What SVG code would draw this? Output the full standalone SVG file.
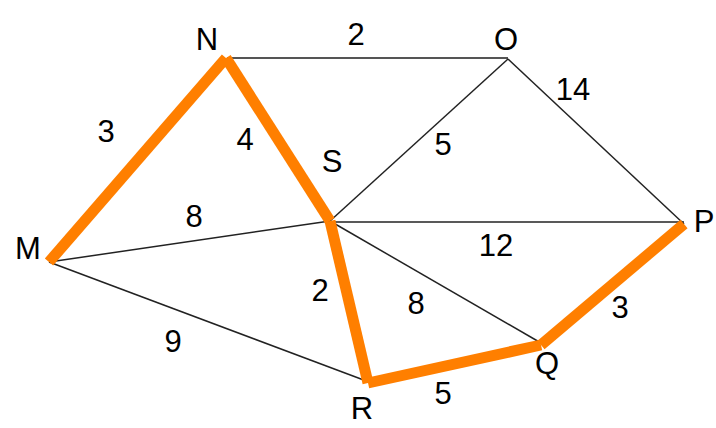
<svg xmlns="http://www.w3.org/2000/svg" width="716" height="428" viewBox="0 0 716 428">
<style>
.e{stroke:#222;stroke-width:1.5;fill:none}
.h{stroke:#FF7F00;stroke-width:11;stroke-linecap:butt;fill:none}
text{font-family:"Liberation Sans",Arial,sans-serif;font-size:31px;fill:#000;text-anchor:middle}
</style>
<rect width="716" height="428" fill="#fff"/>
<g id="connectors">
<line class="e" x1="227" y1="58" x2="508" y2="58" style="stroke:#555;stroke-width:2"/>
<line class="e" x1="508" y1="59" x2="330" y2="221"/>
<line class="e" x1="508" y1="59" x2="684" y2="224"/>
<line class="e" x1="330" y1="222" x2="684" y2="222"/>
<line class="e" x1="49" y1="262" x2="330" y2="221"/>
<line class="e" x1="49" y1="262" x2="369" y2="382"/>
<line class="e" x1="330" y1="221" x2="541" y2="343"/>
<line class="h" x1="49" y1="262" x2="226" y2="58"/>
<line class="h" x1="226" y1="58" x2="330" y2="221"/>
<line class="h" x1="330" y1="221" x2="368" y2="383"/>
<line class="h" x1="368" y1="383" x2="541" y2="345"/>
<line class="h" x1="541" y1="345" x2="684" y2="224"/>
<text x="356" y="45">2</text>
<text x="573" y="100">14</text>
<text x="443" y="155">5</text>
<text x="106" y="142">3</text>
<text x="245" y="150">4</text>
<text x="194" y="227">8</text>
<text x="320" y="301">2</text>
<text x="173" y="352">9</text>
<text x="496" y="256">12</text>
<text x="416" y="314">8</text>
<text x="620" y="318">3</text>
<text x="443" y="404">5</text>
</g>
<g id="node-N"><text x="207" y="50">N</text></g>
<g id="node-O"><text x="506" y="50">O</text></g>
<g id="node-P"><text x="704" y="232">P</text></g>
<g id="node-S"><text x="332" y="172">S</text></g>
<g id="node-M"><text x="28" y="259">M</text></g>
<g id="node-R"><text x="362" y="419">R</text></g>
<g id="node-Q"><text x="547" y="374">Q</text></g>
</svg>
